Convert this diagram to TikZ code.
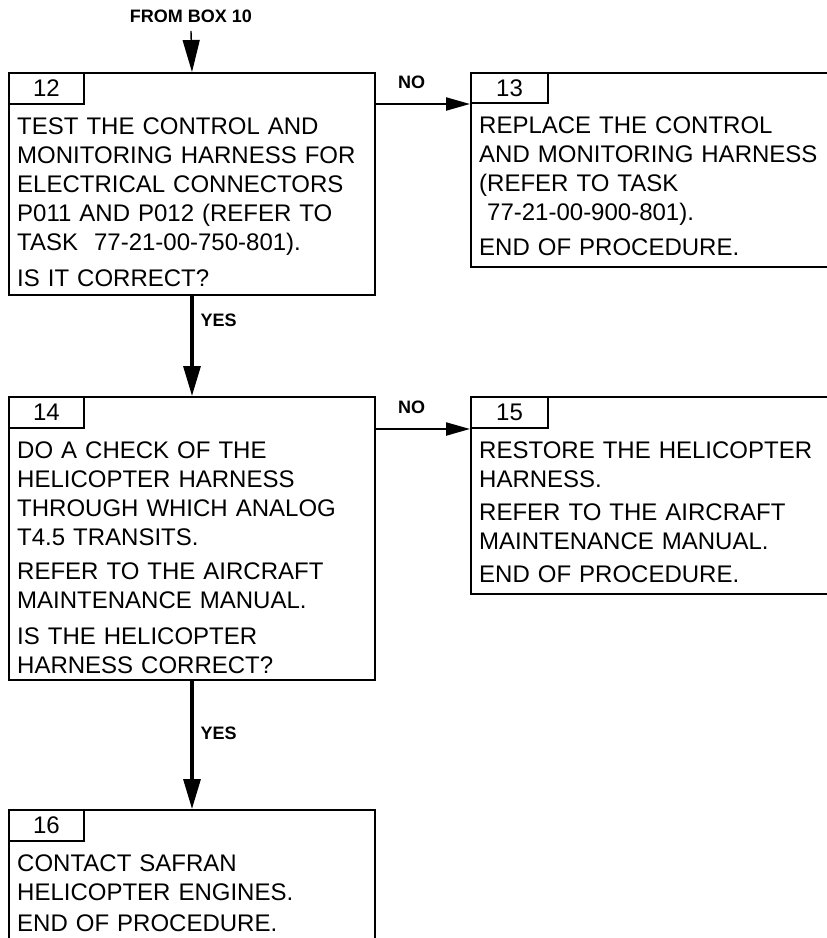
\documentclass[tikz,border=0pt]{standalone}
\usepackage{fontspec}
\setmainfont{Liberation Sans}
\usetikzlibrary{arrows.meta, positioning}
\tikzset{
  stepbox/.style={draw=black, line width=2pt, minimum width=366pt, anchor=north west, inner sep=0pt},
  numtab/.style={draw=black, line width=2pt, minimum width=75pt, minimum height=31pt, anchor=north west, inner sep=0pt, font=\fontsize{24}{29}\selectfont},
  boxtext/.style={anchor=north west, inner sep=0pt, text width=355pt, align=left, font=\fontsize{24}{29}\selectfont, xshift=9pt, yshift=-12.8pt},
  answer/.style={font=\fontsize{18}{20}\selectfont\bfseries, inner sep=0pt},
  flow/.style={line width=3.2pt, -{Triangle[length=30pt, width=17pt]}},
  noflow/.style={line width=2.2pt, -{Triangle[length=24pt, width=13pt]}}
}

\begin{document}
\begin{tikzpicture}[x=1pt, y=-1pt]
\clip (0,0) rectangle (827,938);

% box 12
\node[stepbox, minimum height=222pt] (box12) at (8,72) {};
\node[numtab] (num12) at (box12.north west) {12};
\node[boxtext] (txt12) at (num12.south west) {TEST THE CONTROL AND\\
MONITORING HARNESS FOR\\
ELECTRICAL CONNECTORS\\
P011 AND P012 (REFER TO\\
TASK\ \ 77-21-00-750-801).\\[7pt]
IS IT CORRECT?};

% box 13
\node[stepbox, minimum width=420pt, minimum height=194pt,
  right=94pt of box12.north east, anchor=north west] (box13) {};
\node[numtab, minimum width=77pt, minimum height=30pt] (num13) at (box13.north west) {13};
\node[boxtext] (txt13) at (num13.south west) {REPLACE THE CONTROL\\
AND MONITORING HARNESS\\
(REFER TO TASK\\
\ 77-21-00-900-801).\\[6pt]
END OF PROCEDURE.};

% box 14
\node[stepbox, minimum height=283pt,
  below=100pt of box12.south west, anchor=north west] (box14) {};
\node[numtab] (num14) at (box14.north west) {14};
\node[boxtext] (txt14) at (num14.south west) {DO A CHECK OF THE\\
HELICOPTER HARNESS\\
THROUGH WHICH ANALOG\\
T4.5 TRANSITS.\\[5pt]
REFER TO THE AIRCRAFT\\
MAINTENANCE MANUAL.\\[7pt]
IS THE HELICOPTER\\
HARNESS CORRECT?};

% box 15
\node[stepbox, minimum width=420pt, minimum height=197pt,
  right=94pt of box14.north east, anchor=north west] (box15) {};
\node[numtab, minimum width=77pt] (num15) at (box15.north west) {15};
\node[boxtext] (txt15) at (num15.south west) {RESTORE THE HELICOPTER\\
HARNESS.\\[4pt]
REFER TO THE AIRCRAFT\\
MAINTENANCE MANUAL.\\[4pt]
END OF PROCEDURE.};

% box 16
\node[stepbox, minimum height=200pt,
  below=128pt of box14.south west, anchor=north west] (box16) {};
\node[numtab] (num16) at (box16.north west) {16};
\node[boxtext] (txt16) at (num16.south west) {CONTACT SAFRAN\\
HELICOPTER ENGINES.\\[2pt]
END OF PROCEDURE.};

% connectors
\coordinate (from10) at (191,31);
\node[answer, above=8pt of from10] (lbl10) {FROM BOX 10};
\draw[line width=1.4pt, -{Triangle[length=32pt, width=17pt]}] (from10) -- (box12.north);

\draw[flow] (box12.south) -- node[answer, pos=0.24, right=7pt] (yes12) {YES} (box14.north);
\draw[flow] (box14.south) -- node[answer, pos=0.41, right=7pt] (yes14) {YES} (box16.north);

\draw[noflow] (box12.east |- num13.south west) -- node[answer, pos=0.38, above=14pt] (no12) {NO} (num13.south west);
\draw[noflow] (box14.east |- num15.south west) -- node[answer, pos=0.38, above=14pt] (no14) {NO} (num15.south west);

\end{tikzpicture}
\end{document}
